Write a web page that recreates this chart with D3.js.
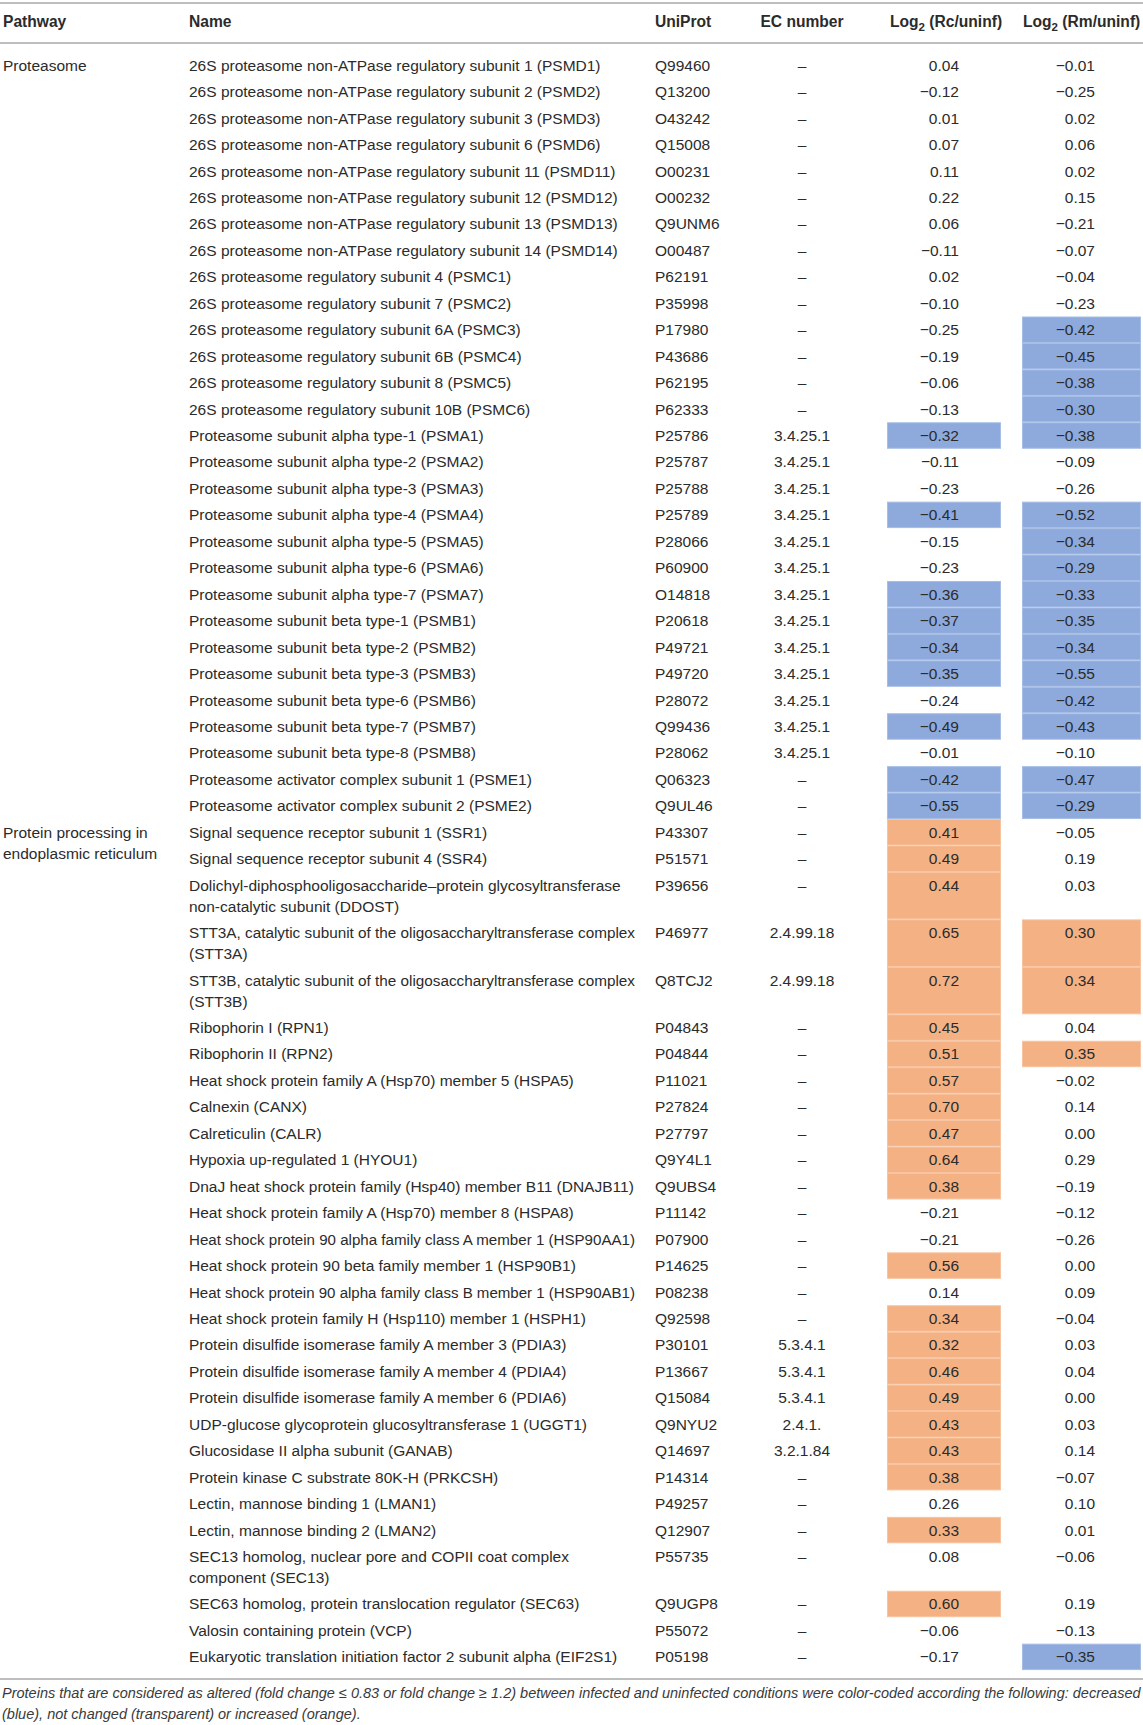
<!DOCTYPE html>
<html>
<head>
<meta charset="utf-8">
<script src="https://cdn.jsdelivr.net/npm/d3@7"></script>
<style>
	body { margin: 0; background: #fff; }
	svg { display: block; font-family: 'Liberation Sans', Arial, sans-serif; }
	.cell { font-size: 15.5px; fill: #2b2b2b; }
	.head { font-size: 15.6px; font-weight: bold; fill: #2b2b2b; }
	.note { font-size: 14.5px; font-style: italic; fill: #3a3a3a; }
</style>
</head>
<body>
<svg id="table"></svg>
<script>
const pathways = ['Proteasome', 'Protein processing in\nendoplasmic reticulum']
const pathwayRows = [29, 29]

const names = [
	'26S proteasome non-ATPase regulatory subunit 1 (PSMD1)',
	'26S proteasome non-ATPase regulatory subunit 2 (PSMD2)',
	'26S proteasome non-ATPase regulatory subunit 3 (PSMD3)',
	'26S proteasome non-ATPase regulatory subunit 6 (PSMD6)',
	'26S proteasome non-ATPase regulatory subunit 11 (PSMD11)',
	'26S proteasome non-ATPase regulatory subunit 12 (PSMD12)',
	'26S proteasome non-ATPase regulatory subunit 13 (PSMD13)',
	'26S proteasome non-ATPase regulatory subunit 14 (PSMD14)',
	'26S proteasome regulatory subunit 4 (PSMC1)',
	'26S proteasome regulatory subunit 7 (PSMC2)',
	'26S proteasome regulatory subunit 6A (PSMC3)',
	'26S proteasome regulatory subunit 6B (PSMC4)',
	'26S proteasome regulatory subunit 8 (PSMC5)',
	'26S proteasome regulatory subunit 10B (PSMC6)',
	'Proteasome subunit alpha type-1 (PSMA1)',
	'Proteasome subunit alpha type-2 (PSMA2)',
	'Proteasome subunit alpha type-3 (PSMA3)',
	'Proteasome subunit alpha type-4 (PSMA4)',
	'Proteasome subunit alpha type-5 (PSMA5)',
	'Proteasome subunit alpha type-6 (PSMA6)',
	'Proteasome subunit alpha type-7 (PSMA7)',
	'Proteasome subunit beta type-1 (PSMB1)',
	'Proteasome subunit beta type-2 (PSMB2)',
	'Proteasome subunit beta type-3 (PSMB3)',
	'Proteasome subunit beta type-6 (PSMB6)',
	'Proteasome subunit beta type-7 (PSMB7)',
	'Proteasome subunit beta type-8 (PSMB8)',
	'Proteasome activator complex subunit 1 (PSME1)',
	'Proteasome activator complex subunit 2 (PSME2)',
	'Signal sequence receptor subunit 1 (SSR1)',
	'Signal sequence receptor subunit 4 (SSR4)',
	'Dolichyl-diphosphooligosaccharide\u2013protein glycosyltransferase\nnon-catalytic subunit (DDOST)',
	'STT3A, catalytic subunit of the oligosaccharyltransferase complex\n(STT3A)',
	'STT3B, catalytic subunit of the oligosaccharyltransferase complex\n(STT3B)',
	'Ribophorin I (RPN1)',
	'Ribophorin II (RPN2)',
	'Heat shock protein family A (Hsp70) member 5 (HSPA5)',
	'Calnexin (CANX)',
	'Calreticulin (CALR)',
	'Hypoxia up-regulated 1 (HYOU1)',
	'DnaJ heat shock protein family (Hsp40) member B11 (DNAJB11)',
	'Heat shock protein family A (Hsp70) member 8 (HSPA8)',
	'Heat shock protein 90 alpha family class A member 1 (HSP90AA1)',
	'Heat shock protein 90 beta family member 1 (HSP90B1)',
	'Heat shock protein 90 alpha family class B member 1 (HSP90AB1)',
	'Heat shock protein family H (Hsp110) member 1 (HSPH1)',
	'Protein disulfide isomerase family A member 3 (PDIA3)',
	'Protein disulfide isomerase family A member 4 (PDIA4)',
	'Protein disulfide isomerase family A member 6 (PDIA6)',
	'UDP-glucose glycoprotein glucosyltransferase 1 (UGGT1)',
	'Glucosidase II alpha subunit (GANAB)',
	'Protein kinase C substrate 80K-H (PRKCSH)',
	'Lectin, mannose binding 1 (LMAN1)',
	'Lectin, mannose binding 2 (LMAN2)',
	'SEC13 homolog, nuclear pore and COPII coat complex\ncomponent (SEC13)',
	'SEC63 homolog, protein translocation regulator (SEC63)',
	'Valosin containing protein (VCP)',
	'Eukaryotic translation initiation factor 2 subunit alpha (EIF2S1)'
]

const uniprot = [
	'Q99460', 'Q13200', 'O43242', 'Q15008', 'O00231', 'O00232', 'Q9UNM6', 'O00487',
	'P62191', 'P35998', 'P17980', 'P43686', 'P62195', 'P62333',
	'P25786', 'P25787', 'P25788', 'P25789', 'P28066', 'P60900', 'O14818',
	'P20618', 'P49721', 'P49720', 'P28072', 'Q99436', 'P28062', 'Q06323', 'Q9UL46',
	'P43307', 'P51571', 'P39656', 'P46977', 'Q8TCJ2', 'P04843', 'P04844', 'P11021',
	'P27824', 'P27797', 'Q9Y4L1', 'Q9UBS4', 'P11142', 'P07900', 'P14625', 'P08238',
	'Q92598', 'P30101', 'P13667', 'Q15084', 'Q9NYU2', 'Q14697', 'P14314', 'P49257',
	'Q12907', 'P55735', 'Q9UGP8', 'P55072', 'P05198'
]

const ecNumbers = [
	'–', '–', '–', '–', '–', '–', '–', '–', '–', '–', '–', '–', '–', '–',
	'3.4.25.1', '3.4.25.1', '3.4.25.1', '3.4.25.1', '3.4.25.1', '3.4.25.1', '3.4.25.1',
	'3.4.25.1', '3.4.25.1', '3.4.25.1', '3.4.25.1', '3.4.25.1', '3.4.25.1', '–', '–',
	'–', '–', '–', '2.4.99.18', '2.4.99.18', '–', '–', '–', '–', '–', '–', '–', '–', '–',
	'–', '–', '–', '5.3.4.1', '5.3.4.1', '5.3.4.1', '2.4.1.', '3.2.1.84', '–', '–', '–',
	'–', '–', '–', '–'
]

const rcValues = [
	0.04, -0.12, 0.01, 0.07, 0.11, 0.22, 0.06, -0.11, 0.02, -0.10, -0.25, -0.19, -0.06, -0.13,
	-0.32, -0.11, -0.23, -0.41, -0.15, -0.23, -0.36, -0.37, -0.34, -0.35, -0.24, -0.49, -0.01,
	-0.42, -0.55,
	0.41, 0.49, 0.44, 0.65, 0.72, 0.45, 0.51, 0.57, 0.70, 0.47, 0.64, 0.38, -0.21, -0.21,
	0.56, 0.14, 0.34, 0.32, 0.46, 0.49, 0.43, 0.43, 0.38, 0.26, 0.33, 0.08, 0.60, -0.06, -0.17
]

const rmValues = [
	-0.01, -0.25, 0.02, 0.06, 0.02, 0.15, -0.21, -0.07, -0.04, -0.23, -0.42, -0.45, -0.38, -0.30,
	-0.38, -0.09, -0.26, -0.52, -0.34, -0.29, -0.33, -0.35, -0.34, -0.55, -0.42, -0.43, -0.10,
	-0.47, -0.29,
	-0.05, 0.19, 0.03, 0.30, 0.34, 0.04, 0.35, -0.02, 0.14, 0.00, 0.29, -0.19, -0.12, -0.26,
	0.00, 0.09, -0.04, 0.03, 0.04, 0.00, 0.03, 0.14, -0.07, 0.10, 0.01, -0.06, 0.19, -0.13, -0.35
]

// -1 decreased, 0 not changed, 1 increased
const rcChange = [
	0, 0, 0, 0, 0, 0, 0, 0, 0, 0, 0, 0, 0, 0,
	-1, 0, 0, -1, 0, 0, -1, -1, -1, -1, 0, -1, 0, -1, -1,
	1, 1, 1, 1, 1, 1, 1, 1, 1, 1, 1, 1, 0, 0,
	1, 0, 1, 1, 1, 1, 1, 1, 1, 0, 1, 0, 1, 0, 0
]

const rmChange = [
	0, 0, 0, 0, 0, 0, 0, 0, 0, 0, -1, -1, -1, -1,
	-1, 0, 0, -1, -1, -1, -1, -1, -1, -1, -1, -1, 0, -1, -1,
	0, 0, 0, 1, 1, 0, 1, 0, 0, 0, 0, 0, 0, 0,
	0, 0, 0, 0, 0, 0, 0, 0, 0, 0, 0, 0, 0, 0, -1
]

const footnote = [
	'Proteins that are considered as altered (fold change ≤ 0.83 or fold change ≥ 1.2) between infected and uninfected conditions were color-coded according the following: decreased',
	'(blue), not changed (transparent) or increased (orange).'
]

function drawTable() {
	const width = 1143
	const height = 1725

	const rowH = 26.45
	const lineH = 21
	const firstRow = 52
	const base = 18.7
	const maxName = 446

	const col = {
		pathway: 3,
		name: 189,
		uniprot: 655,
		ec: 802,
		rc: [887, 1001],
		rm: [1022, 1141],
		rcText: 959,
		rmText: 1095
	}

	const fill = d3.scaleOrdinal().domain([-1, 1]).range(['#8eaadc', '#f4b183'])
	const edge = d3.scaleOrdinal().domain([-1, 1]).range(['#a6bde5', '#f7c3a0'])
	const fmt = d3.format('.2f')

	const rows = names.map((n, i) => ({
		name: n.split('\n'),
		uniprot: uniprot[i],
		ec: ecNumbers[i],
		rc: rcValues[i],
		rm: rmValues[i],
		rcc: rcChange[i],
		rmc: rmChange[i]
	}))
	const heights = rows.map(d => rowH + (d.name.length - 1) * lineH)
	const tops = [firstRow, ...Array.from(d3.cumsum(heights), c => firstRow + c)]
	rows.forEach((d, i) => {
		d.y0 = tops[i]
		d.h = heights[i]
	})
	const bottom = tops[rows.length]

	const svg = d3
		.select('#table')
		.attr('width', width)
		.attr('height', height)
		.attr('viewBox', [0, 0, width, height])

	// rules
	svg
		.selectAll('line.rule')
		.data([3, 43, bottom + 9])
		.join('line')
		.attr('class', 'rule')
		.attr('x1', 0)
		.attr('x2', width)
		.attr('y1', d => d)
		.attr('y2', d => d)
		.attr('stroke', '#a8a8a8')
		.attr('stroke-width', 1.5)

	// header
	const head = svg.append('g').attr('class', 'head')
	head.append('text').attr('x', col.pathway).attr('y', 27).text('Pathway')
	head.append('text').attr('x', col.name).attr('y', 27).text('Name')
	head.append('text').attr('x', col.uniprot).attr('y', 27).text('UniProt')
	head
		.append('text')
		.attr('x', col.ec)
		.attr('y', 27)
		.attr('text-anchor', 'middle')
		.text('EC number')
	const logHead = [
		[col.rc[0] + 3, 'Rc/uninf'],
		[col.rm[0] + 1, 'Rm/uninf']
	]
	logHead.forEach(([x, t]) => {
		const txt = head.append('text').attr('x', x).attr('y', 27)
		txt.append('tspan').text('Log')
		txt.append('tspan').attr('font-size', 11.5).attr('dy', 4).text('2')
		txt.append('tspan').attr('dy', -4).text(` (${t})`)
	})

	// coloured cells
	const cells = []
	rows.forEach(d => {
		if (d.rcc) cells.push({ x: col.rc, y: d.y0, h: d.h, c: d.rcc })
		if (d.rmc) cells.push({ x: col.rm, y: d.y0, h: d.h, c: d.rmc })
	})
	svg
		.append('g')
		.selectAll('rect')
		.data(cells)
		.join('rect')
		.attr('x', d => d.x[0] + 0.5)
		.attr('y', d => d.y + 0.5)
		.attr('width', d => d.x[1] - d.x[0] - 1)
		.attr('height', d => d.h - 1)
		.attr('fill', d => fill(d.c))
		.attr('stroke', d => edge(d.c))
		.attr('stroke-width', 1)

	// pathway labels
	let start = 0
	pathways.forEach((p, k) => {
		const y = rows[start].y0 + base
		svg
			.append('text')
			.attr('class', 'cell')
			.attr('x', col.pathway)
			.attr('y', y)
			.selectAll('tspan')
			.data(p.split('\n'))
			.join('tspan')
			.attr('x', col.pathway)
			.attr('dy', (d, i) => (i ? lineH : 0))
			.text(d => d)
		start += pathwayRows[k]
	})

	const g = svg
		.append('g')
		.selectAll('g')
		.data(rows)
		.join('g')
		.attr('class', 'cell')
		.attr('transform', d => `translate(0,${d.y0 + base})`)

	g.append('text')
		.attr('x', col.name)
		.selectAll('tspan')
		.data(d => d.name)
		.join('tspan')
		.attr('x', col.name)
		.attr('dy', (d, i) => (i ? lineH : 0))
		.text(d => d)
		.each(function () {
			// long names are set a little tighter, as in the original
			if (this.getComputedTextLength() > maxName) {
				d3.select(this).attr('textLength', maxName).attr('lengthAdjust', 'spacingAndGlyphs')
			}
		})

	g.append('text')
		.attr('x', col.uniprot)
		.text(d => d.uniprot)

	g.append('text')
		.attr('x', col.ec)
		.attr('text-anchor', 'middle')
		.text(d => d.ec)

	g.append('text')
		.attr('x', col.rcText)
		.attr('text-anchor', 'end')
		.text(d => fmt(d.rc))

	g.append('text')
		.attr('x', col.rmText)
		.attr('text-anchor', 'end')
		.text(d => fmt(d.rm))

	// footnote
	svg
		.append('g')
		.selectAll('text')
		.data(footnote)
		.join('text')
		.attr('class', 'note')
		.attr('x', 2)
		.attr('y', (d, i) => bottom + 28 + i * 21)
		.text(d => d)
}

drawTable()
</script>
</body>
</html>
